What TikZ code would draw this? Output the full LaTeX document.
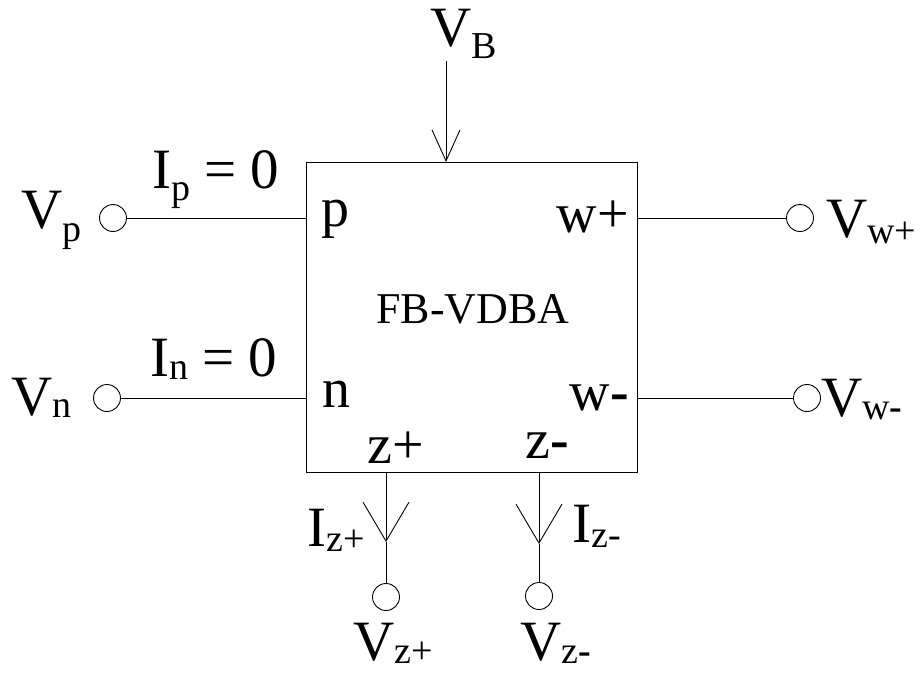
\documentclass[tikz,border=0pt]{standalone}
\usepackage{fontspec}
\setmainfont{Liberation Serif}
\usetikzlibrary{arrows.meta,positioning,calc}

% #1 letter, #2 subscript, #3 drop of the subscript
\newcommand{\sublbl}[3]{#1\raisebox{-#3pt}{\fontsize{38}{38}\selectfont #2}}

\begin{document}
\begin{tikzpicture}[
  x=1pt, y=-1pt,
  block/.style={rectangle, draw=black, line width=1pt, minimum width=331pt, minimum height=310pt, inner sep=0pt},
  port/.style={circle, draw=black, line width=0.9pt, minimum size=27pt, inner sep=0pt},
  wire/.style={line width=1pt},
  arrow/.style={line width=0.9pt, -{Straight Barb[length=39pt,width=46pt,line width=0.9pt]}},
  arrowb/.style={line width=0.9pt, -{Straight Barb[length=31pt,width=28pt,line width=0.9pt]}},
  pinlabel/.style={font=\fontsize{56}{56}\selectfont, inner sep=0pt},
  biglabel/.style={font=\fontsize{57}{57}\selectfont, inner sep=0pt},
]
\useasboundingbox (0,0) rectangle (924,673);

% Block
\node[block] (fb) at (471.5,317) {};
\node[font=\fontsize{44}{44}\selectfont, inner sep=0pt, anchor=base] (title) at (473,323) {FB-VDBA};

% Ports
\node[port] (vp) at (113,218) {};
\node[port] (vn) at (107,398) {};
\node[port] (vwp) at (800,218) {};
\node[port] (vwm) at (807,398) {};
\node[port] (vzp) at (386,597) {};
\node[port] (vzm) at (539,596) {};

% Free ends
\coordinate (vbtop) at (446,61);
\coordinate (vbtip) at (446,162);
\coordinate (zptop) at (386,472);
\coordinate (zptip) at (386,542);
\coordinate (zmtop) at (539,472);
\coordinate (zmtip) at (539,544);

% Wires
\draw[wire] (vp) -- (fb.west |- vp);
\draw[wire] (vn) -- (fb.west |- vn);
\draw[wire] (fb.east |- vwp) -- (vwp);
\draw[wire] (fb.east |- vwm) -- (vwm);
\draw[arrowb] (vbtop) -- (vbtip);
\draw[arrow] (zptop) -- (zptip);
\draw[wire] (zptip) -- (vzp);
\draw[arrow] (zmtop) -- (zmtip);
\draw[wire] (zmtip) -- (vzm);

% Pin labels
\node[pinlabel, anchor=base west] (pinp) at (321,226) {p};
\node[pinlabel, anchor=base west] (pinn) at (322,407) {n};
\node[pinlabel, anchor=base east] (pinwp) at (629,232) {w+};
\node[pinlabel, anchor=base east] (pinwm) at (629,410) {w\textbf{-}};
\node[pinlabel, anchor=base west] (pinzp) at (367,463) {z+};
\node[pinlabel, anchor=base west] (pinzm) at (525,458) {z\textbf{-}};

% Labels outside
\node[biglabel, anchor=base west] (lvb) at (430,46) {\sublbl{V}{B}{12}};
\node[biglabel, anchor=base west] (lip) at (152,188) {\sublbl{I}{p}{12} = 0};
\node[biglabel, anchor=base west] (lin) at (150,376) {\sublbl{I}{n}{3} = 0};
\node[biglabel, anchor=base west] (lvp) at (21,228) {\sublbl{V}{p}{13}};
\node[biglabel, anchor=base west] (lvn) at (11,415) {\sublbl{V}{n}{2}};
\node[biglabel, anchor=base west] (lvwp) at (826,237) {\sublbl{V}{w+}{6}};
\node[biglabel, anchor=base west] (lvwm) at (821,416) {\sublbl{V}{w\textbf{-}}{3}};
\node[biglabel, anchor=base west] (lizp) at (307,546) {\sublbl{I}{z+}{5}};
\node[biglabel, anchor=base west] (lizm) at (572,542) {\sublbl{I}{z-}{5}};
\node[biglabel, anchor=base west] (lvzp) at (353,660) {\sublbl{V}{z+}{3}};
\node[biglabel, anchor=base west] (lvzm) at (520,660) {\sublbl{V}{z\textbf{-}}{3}};

\end{tikzpicture}
\end{document}
